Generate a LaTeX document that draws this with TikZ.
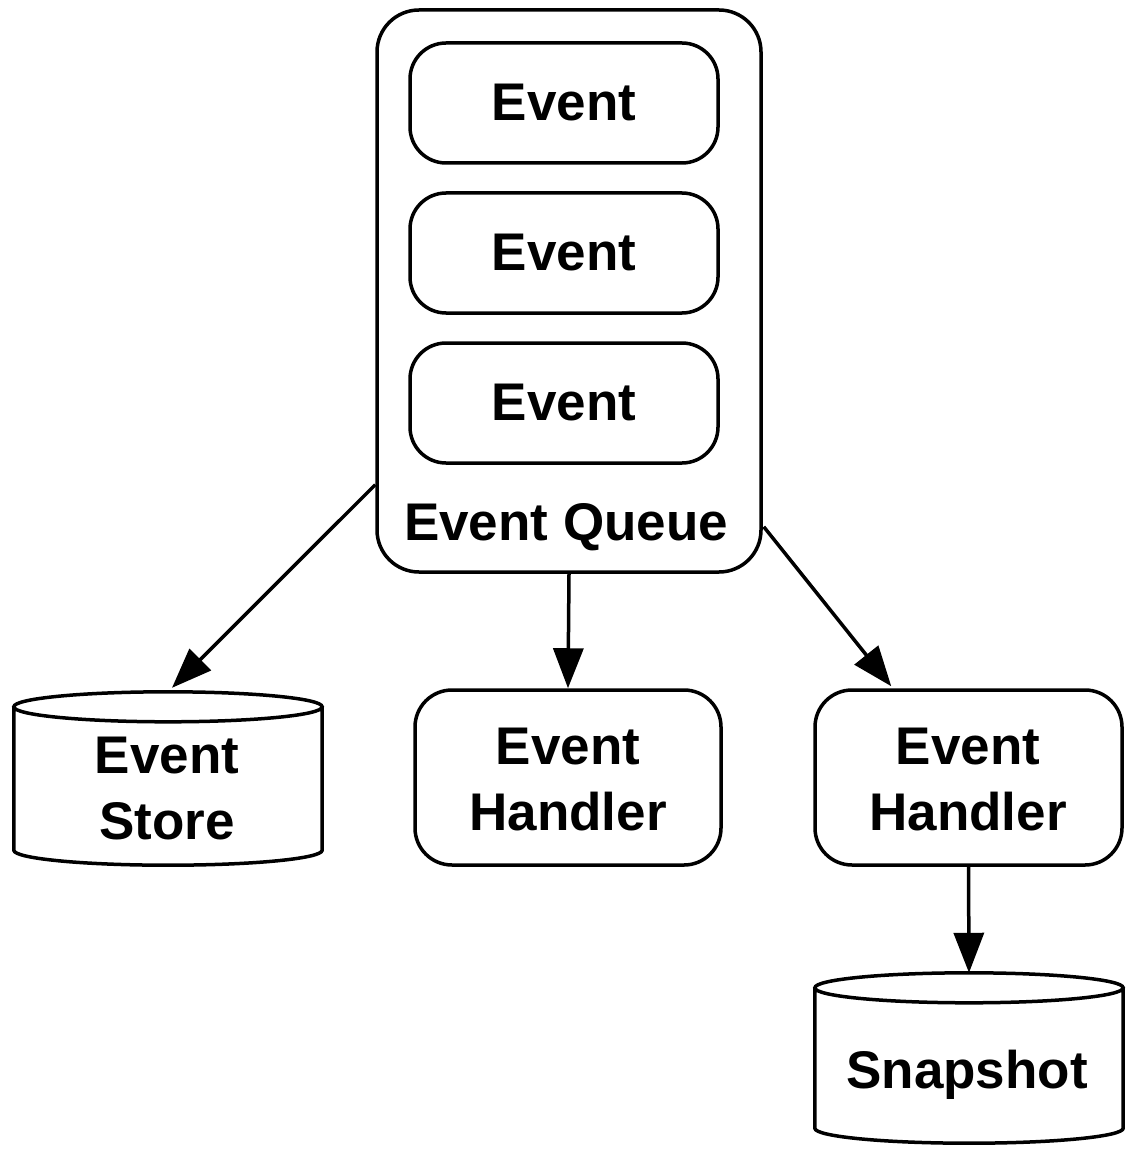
\documentclass[tikz,border=0pt]{standalone}
\usepackage{fontspec}
\setmainfont{Liberation Sans}
\usetikzlibrary{arrows.meta,calc}
\begin{document}
\begin{tikzpicture}[x=1pt,y=-1pt,
  ln/.style={line width=3.5pt},
  rbox/.style={draw,line width=3.5pt,rounded corners=37pt,inner sep=0pt},
  txt/.style={font=\fontsize{53}{66}\selectfont\bfseries,align=center,inner sep=0pt},
  arr/.style={line width=3.5pt,-{Triangle[length=40pt,width=30pt]}},
  cylbox/.style={inner sep=0pt,minimum width=308pt}
]
\useasboundingbox (0,0) rectangle (1129,1158);
% queue
\node[rbox,minimum width=384pt,minimum height=562pt,rounded corners=42pt] (q) at (569,291) {};
\node[rbox,minimum width=308pt,minimum height=120pt,rounded corners=36pt] (e1) at (564,103) {};
\node[rbox,minimum width=308pt,minimum height=120pt,rounded corners=36pt] (e2) at (564,253) {};
\node[rbox,minimum width=308pt,minimum height=120pt,rounded corners=36pt] (e3) at (564,403) {};
\node[txt] (t1) at (e1.center) {Event};
\node[txt] (t2) at (e2.center) {Event};
\node[txt] (t3) at (e3.center) {Event};
\node[txt,anchor=base] (tq) at (566,540) {Event Queue};
% handlers
\node[rbox,minimum width=306pt,minimum height=175pt] (h1) at (568,777.5) {};
\node[txt] (th1) at (568,780) {Event\\Handler};
\node[rbox,minimum width=307pt,minimum height=175pt] (h2) at (968.5,777.5) {};
\node[txt] (th2) at (968,780) {Event\\Handler};
% store cylinder
\node[cylbox,minimum height=173pt] (s) at (168,778.5) {};
\draw[ln] let \p1=(s.north west), \p2=(s.south east) in
  (\x1,\y1-15pt) -- (\x1,\y2+15pt)
  arc[start angle=180,end angle=360,x radius={(\x2-\x1)/2},y radius=15pt]
  -- (\x2,\y1-15pt)
  ({(\x1+\x2)/2},\y1-15pt) ellipse [x radius={(\x2-\x1)/2},y radius=15pt];
\node[txt] (ts) at (167,789) {Event\\Store};
% snapshot cylinder
\node[cylbox,minimum height=170pt] (sn) at (969,1058) {};
\draw[ln] let \p1=(sn.north west), \p2=(sn.south east) in
  (\x1,\y1-15pt) -- (\x1,\y2+15pt)
  arc[start angle=180,end angle=360,x radius={(\x2-\x1)/2},y radius=15pt]
  -- (\x2,\y1-15pt)
  ({(\x1+\x2)/2},\y1-15pt) ellipse [x radius={(\x2-\x1)/2},y radius=15pt];
\node[txt,anchor=base] (tsn) at (967,1088) {Snapshot};
% arrows
\draw[arr] ($(q.south west)+(0,-89)$) -- ($(s.north)+(4,-4)$);
\draw[arr] (q.south) -- (h1.north);
\draw[arr] ($(q.south east)+(1,-47)$) -- ($(h2.north west)+(78,-2)$);
\draw[arr] (h2.south) -- (sn.north);
\end{tikzpicture}
\end{document}
